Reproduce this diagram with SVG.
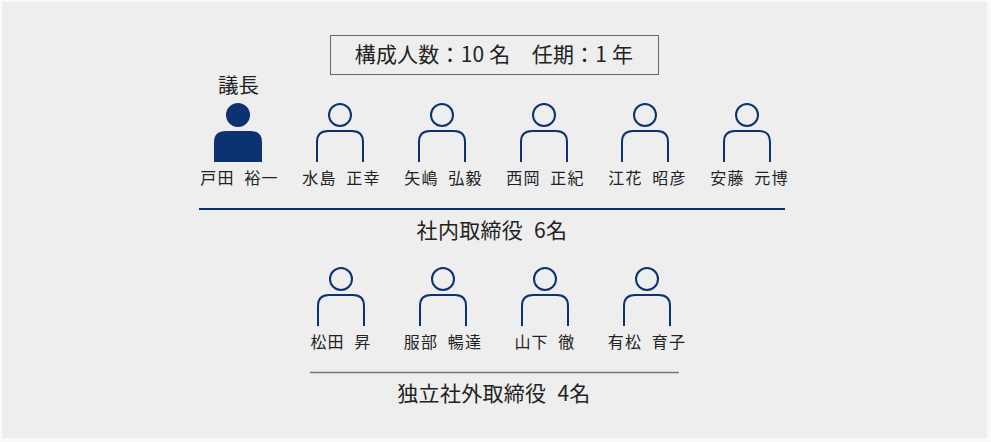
<svg xmlns="http://www.w3.org/2000/svg" width="991" height="442" viewBox="0 0 991 442">
<style>
text{font-family:"Noto Sans CJK JP","Noto Sans",sans-serif;fill:#222;text-anchor:middle}
.n{font-size:16px;letter-spacing:1.200px}
.t{font-size:21px;letter-spacing:.2px}
.s{font-size:21px;word-spacing:6px;letter-spacing:.3px}
.o{fill:none;stroke:#0d3272;stroke-width:2}
.f{fill:#0d3272;stroke:#0d3272;stroke-width:2}
</style>
<defs>
<g id="p"><circle cx="0" cy="0" r="11"/><path d="M-23 47V27Q-23 16 -12 16H12Q23 16 23 27V47"/></g>
</defs>
<rect width="991" height="442" fill="#fafafa"/>
<rect x="2" y="2" width="985" height="436" fill="#eeeeee"/>
<g id="header"><rect x="330.500" y="35.500" width="328" height="39" fill="none" stroke="#666"/>
<text class="t" x="494" y="62">構成人数：10 名　任期：1 年</text></g>
<g id="chair"><text x="238.500" y="93" style="font-size:20.500px">議長</text>
<g transform="translate(238 115)"><circle class="f" r="11"/><path class="f" d="M-23 46V27Q-23 17 -12 17H12Q23 17 23 27V46Z"/></g>
<text class="n" x="239.500" y="184" xml:space="preserve">戸田  裕一</text></g>
<g id="m1"><use href="#p" class="o" x="340" y="115"/><text class="n" x="341.500" y="184" xml:space="preserve">水島  正幸</text></g>
<g id="m2"><use href="#p" class="o" x="442" y="115"/><text class="n" x="443.500" y="184" xml:space="preserve">矢嶋  弘毅</text></g>
<g id="m3"><use href="#p" class="o" x="544" y="115"/><text class="n" x="545.500" y="184" xml:space="preserve">西岡  正紀</text></g>
<g id="m4"><use href="#p" class="o" x="645" y="115"/><text class="n" x="647.500" y="184" xml:space="preserve">江花  昭彦</text></g>
<g id="m5"><use href="#p" class="o" x="747" y="115"/><text class="n" x="749.500" y="184" xml:space="preserve">安藤  元博</text></g>
<g id="connectors"><path d="M199 209H785" stroke="#0d3272" stroke-width="2" fill="none"/><path d="M310 372.500H679" stroke="#777" stroke-width="1.500" fill="none"/></g>
<g id="internal"><text class="s" x="492" y="238">社内取締役 6名</text></g>
<g id="o1"><use href="#p" class="o" x="341" y="279"/><text class="n" x="341" y="348" xml:space="preserve">松田  昇</text></g>
<g id="o2"><use href="#p" class="o" x="443" y="279"/><text class="n" x="443" y="348" xml:space="preserve">服部  暢達</text></g>
<g id="o3"><use href="#p" class="o" x="545" y="279"/><text class="n" x="545" y="348" xml:space="preserve">山下  徹</text></g>
<g id="o4"><use href="#p" class="o" x="647" y="279"/><text class="n" x="647" y="348" xml:space="preserve">有松  育子</text></g>
<g id="outside"><text class="s" x="494" y="401">独立社外取締役 4名</text></g>
</svg>
